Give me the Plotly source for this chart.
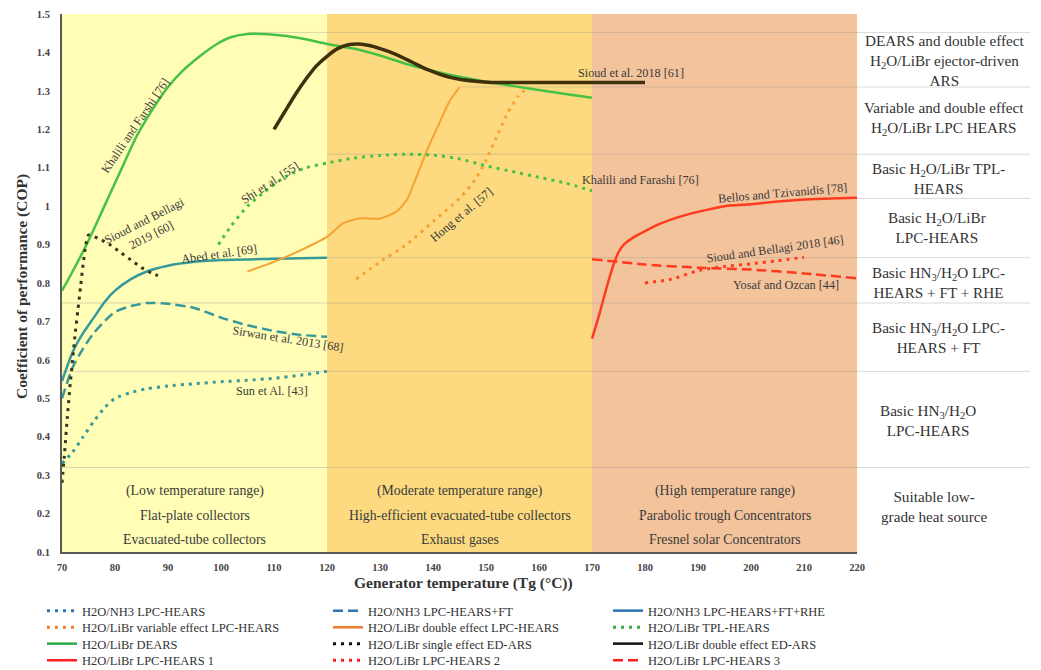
import plotly.graph_objects as go

# ---- series data: generator temperature (°C) vs COP ----
nh3_lpc_T = [70, 72, 74, 76, 78, 80, 83, 86, 90, 95, 100, 105, 110, 115, 120]
nh3_lpc_cop = [0.33, 0.36, 0.40, 0.44, 0.475, 0.50, 0.515, 0.525, 0.532, 0.538, 0.543, 0.547, 0.552, 0.56, 0.57]

nh3_ft_T = [70, 72, 74, 76, 78, 80, 83, 86, 90, 95, 100, 105, 110, 115, 120]
nh3_ft_cop = [0.50, 0.58, 0.63, 0.67, 0.70, 0.725, 0.74, 0.748, 0.746, 0.735, 0.71, 0.69, 0.675, 0.665, 0.66]

nh3_rhe_T = [70, 72, 74, 76, 78, 80, 83, 86, 90, 95, 100, 110, 120]
nh3_rhe_cop = [0.545, 0.62, 0.67, 0.71, 0.75, 0.78, 0.81, 0.83, 0.845, 0.855, 0.86, 0.863, 0.866]

libr_var_T = [125.5, 130, 135, 140, 145, 148, 150, 152, 154, 156, 158]
libr_var_cop = [0.81, 0.855, 0.9, 0.96, 1.02, 1.07, 1.12, 1.18, 1.24, 1.285, 1.31]

libr_dbl_T = [105, 110, 115, 120, 123, 126, 130, 133, 135, 137, 139, 141, 143, 145]
libr_dbl_cop = [0.83, 0.855, 0.885, 0.92, 0.955, 0.968, 0.968, 0.985, 1.015, 1.08, 1.15, 1.21, 1.27, 1.31]

libr_tpl_T = [99.5, 102, 105, 108, 112, 116, 120, 125, 130, 135, 140, 145, 150, 155, 160, 165, 170]
libr_tpl_cop = [0.9, 0.95, 1.0, 1.035, 1.075, 1.1, 1.112, 1.125, 1.132, 1.135, 1.133, 1.123, 1.105, 1.09, 1.075, 1.06, 1.04]

dears_T = [70, 72, 75, 78, 81, 84, 87, 90, 93, 96, 99, 102, 105, 110, 115, 120, 125, 130, 135, 140, 145, 150, 155, 160, 165, 170]
dears_cop = [0.78, 0.83, 0.91, 1.0, 1.09, 1.18, 1.25, 1.31, 1.355, 1.39, 1.42, 1.44, 1.448, 1.446, 1.437, 1.422, 1.41, 1.392, 1.37, 1.352, 1.337, 1.324, 1.313, 1.302, 1.292, 1.282]

ed_single_T = [70, 70.5, 71, 71.5, 72, 72.5, 73, 73.5, 74, 74.5, 75, 77, 79, 81, 83, 85, 87, 89]
ed_single_cop = [0.28, 0.36, 0.45, 0.53, 0.60, 0.67, 0.73, 0.79, 0.85, 0.90, 0.925, 0.915, 0.9, 0.88, 0.86, 0.84, 0.825, 0.815]

ed_double_T = [110, 112, 114, 116, 118, 120, 122, 124, 126, 128, 130, 133, 136, 139, 142, 145, 148, 151, 155, 160, 170, 180]
ed_double_cop = [1.2, 1.245, 1.29, 1.33, 1.365, 1.39, 1.41, 1.42, 1.422, 1.418, 1.41, 1.395, 1.375, 1.355, 1.34, 1.33, 1.325, 1.322, 1.322, 1.322, 1.322, 1.322]

lpc1_T = [170, 171, 172, 173, 174, 175, 176, 178, 180, 183, 186, 190, 195, 200, 205, 210, 215, 220]
lpc1_cop = [0.655, 0.7, 0.75, 0.8, 0.845, 0.88, 0.9, 0.92, 0.935, 0.955, 0.97, 0.985, 1.0, 1.005, 1.012, 1.017, 1.02, 1.022]

lpc2_T = [180, 185, 190, 195, 200, 205, 210]
lpc2_cop = [0.80, 0.81, 0.832, 0.843, 0.85, 0.858, 0.867]

lpc3_T = [170, 180, 190, 200, 210, 220]
lpc3_cop = [0.862, 0.848, 0.84, 0.835, 0.825, 0.812]

# temperature bands
band_edges = [70, 120, 170, 220]
band_colors = ["#FFFDB6", "#FDDA80", "#F3C39C"]
band_text = [
    ["(Low temperature range)", "Flat-plate collectors", "Evacuated-tube collectors"],
    ["(Moderate temperature range)", "High-efficient evacuated-tube collectors", "Exhaust gases"],
    ["(High temperature range)", "Parabolic trough Concentrators", "Fresnel solar Concentrators"],
]
band_text_cop = [0.258, 0.195, 0.133]

# category guide lines (COP level, starting temperature)
guide_levels = [1.452, 1.31, 1.135, 1.02, 0.866, 0.748, 0.57, 0.32]
guide_start = [105, 145, 120, 220, 120, 70, 70, 70]

# categories listed beside the chart
cat_labels = [
    "DEARS and double effect<br>H<sub>2</sub>O/LiBr ejector-driven<br>ARS",
    "Variable and double effect<br>H<sub>2</sub>O/LiBr LPC HEARS",
    "Basic H<sub>2</sub>O/LiBr TPL-<br>HEARS",
    "Basic H<sub>2</sub>O/LiBr<br>LPC-HEARS",
    "Basic HN<sub>3</sub>/H<sub>2</sub>O LPC-<br>HEARS + FT + RHE",
    "Basic HN<sub>3</sub>/H<sub>2</sub>O LPC-<br>HEARS + FT",
    "Basic HN<sub>3</sub>/H<sub>2</sub>O<br>LPC-HEARS",
    "Suitable low-<br>grade heat source",
]
cat_cop = [1.38, 1.227, 1.073, 0.945, 0.802, 0.659, 0.443, 0.219]
cat_xpaper = [1.111, 1.109, 1.102, 1.101, 1.102, 1.103, 1.089, 1.098]

# curve labels: text, T, COP, angle
curve_labels = [
    ("Khalili and Farshi [76]", 83.8, 1.208, -56),
    ("Sioud and Bellagi<br>2019 [60]", 86.2, 0.943, -27),
    ("Shi et al. [55]", 109.2, 1.06, -33),
    ("Abed et al. [69]", 99.6, 0.875, -8),
    ("Sirwan et al. 2013 [68]", 112.6, 0.654, 9),
    ("Sun et Al. [43]", 109.6, 0.518, 0),
    ("Hong et al. [57]", 145.3, 0.977, -40),
    ("Khalili and Farashi [76]", 179.1, 1.068, 0),
    ("Sioud et al. 2018 [61]", 177.4, 1.346, 0),
    ("Bellos and Tzivanidis [78]", 206.0, 1.034, -5),
    ("Sioud and Bellagi 2018 [46]", 204.5, 0.888, -8),
    ("Yosaf and Ozcan [44]", 206.6, 0.794, 0),
]

y_ticks = [0.1, 0.2, 0.3, 0.4, 0.5, 0.6, 0.7, 0.8, 0.9, 1.0, 1.1, 1.2, 1.3, 1.4, 1.5]
y_ticktext = ["0.1", "0.2", "0.3", "0.4", "0.5", "0.6", "0.7", "0.8", "0.9", "1", "1.1", "1.2", "1.3", "1.4", "1.5"]
x_ticks = [70, 80, 90, 100, 110, 120, 130, 140, 150, 160, 170, 180, 190, 200, 210, 220]

SERIF = "Liberation Serif"
TEAL = "#38999A"
ORANGE = "#F6A234"
GREEN = "#45C245"
DARK = "#3E300C"
DARK_DOT = "#36361A"
RED = "#FF3A1E"
DOT = "3px,5px"
DASH = "10px,5px"

# (name, T, COP, plot colour, dash, width, legend colour)
series = [
    ("H2O/NH3 LPC-HEARS", nh3_lpc_T, nh3_lpc_cop, TEAL, DOT, 3, "#2E75B6"),
    ("H2O/NH3 LPC-HEARS+FT", nh3_ft_T, nh3_ft_cop, TEAL, DASH, 2.5, "#2E75B6"),
    ("H2O/NH3 LPC-HEARS+FT+RHE", nh3_rhe_T, nh3_rhe_cop, TEAL, "solid", 2.5, "#2E75B6"),
    ("H2O/LiBr variable effect LPC-HEARS", libr_var_T, libr_var_cop, ORANGE, DOT, 3, "#ED7D31"),
    ("H2O/LiBr double effect LPC-HEARS", libr_dbl_T, libr_dbl_cop, ORANGE, "solid", 2, "#ED7D31"),
    ("H2O/LiBr TPL-HEARS", libr_tpl_T, libr_tpl_cop, GREEN, DOT, 3, "#2EAA4A"),
    ("H2O/LiBr DEARS", dears_T, dears_cop, GREEN, "solid", 2.5, "#2EAA4A"),
    ("H2O/LiBr single effect ED-ARS", ed_single_T, ed_single_cop, DARK_DOT, DOT, 3, "#111111"),
    ("H2O/LiBr double effect ED-ARS", ed_double_T, ed_double_cop, DARK, "solid", 3.5, "#111111"),
    ("H2O/LiBr LPC-HEARS 1", lpc1_T, lpc1_cop, RED, "solid", 2.5, "#FF1E1E"),
    ("H2O/LiBr LPC-HEARS 2", lpc2_T, lpc2_cop, RED, DOT, 3, "#FF1E1E"),
    ("H2O/LiBr LPC-HEARS 3", lpc3_T, lpc3_cop, RED, DASH, 2.5, "#FF1E1E"),
]

W, H = 1041, 670
plot_l, plot_r, plot_t, plot_b = 62, 857, 14, 552

fig = go.Figure()

for name, T, cop, col, dash, w, lcol in series:
    fig.add_trace(go.Scatter(
        x=T, y=cop, mode="lines", name=name, showlegend=False, legendgroup=name,
        line=dict(color=col, dash=dash, width=w, shape="spline", smoothing=0.6),
        hoverinfo="x+y+name",
    ))

# legend entries laid out as a 3-column grid, one legend per entry
legend_cols_px = [42, 328, 608]
legend_rows_px = [611, 627.5, 644, 660.5]
legend_layouts = {}
for i, (name, T, cop, col, dash, w, lcol) in enumerate(series):
    key = "legend" if i == 0 else f"legend{i + 1}"
    r, c = divmod(i, 3)
    fig.add_trace(go.Scatter(
        x=[None], y=[None], mode="lines", name=name, legendgroup=name, legend=key,
        line=dict(color=lcol, dash=dash, width=2.5 if dash != DOT else 3),
    ))
    legend_layouts[key] = dict(
        x=legend_cols_px[c] / W, y=1 - legend_rows_px[r] / H,
        xref="container", yref="container", xanchor="left", yanchor="middle",
        bgcolor="rgba(0,0,0,0)", borderwidth=0, itemwidth=30,
        font=dict(family=SERIF, size=12.5, color="#333333"),
    )

shapes = []
for i in range(3):
    shapes.append(dict(type="rect", xref="x", yref="paper", x0=band_edges[i], x1=band_edges[i + 1],
                       y0=0, y1=1, fillcolor=band_colors[i], line=dict(width=0), layer="below"))

y_lo, y_hi = 0.1, 1.5
x_lo, x_hi = 70, 220
right_end = (1030 - plot_l) / (plot_r - plot_l)
for lvl, t0 in zip(guide_levels, guide_start):
    yp = (lvl - y_lo) / (y_hi - y_lo)
    shapes.append(dict(type="line", xref="paper", yref="paper",
                       x0=(t0 - x_lo) / (x_hi - x_lo), x1=right_end, y0=yp, y1=yp,
                       line=dict(color="rgba(150,150,150,0.35)", width=1), layer="below"))

CENTER = dict(xanchor="center", yanchor="middle", showarrow=False)

annotations = []
for i in range(3):
    mid = (band_edges[i] + band_edges[i + 1]) / 2
    for txt, yv in zip(band_text[i], band_text_cop):
        annotations.append(dict(x=mid, y=yv, xref="x", yref="y", text=txt, **CENTER,
                                font=dict(family=SERIF, size=13.8, color="#3a3a3a")))

for txt, T, v, ang in curve_labels:
    annotations.append(dict(x=T, y=v, xref="x", yref="y", text=txt, textangle=ang, **CENTER,
                            font=dict(family=SERIF, size=12.2, color="#3a3a3a")))

for txt, v, xp in zip(cat_labels, cat_cop, cat_xpaper):
    annotations.append(dict(x=xp, y=v, xref="paper", yref="y", text=txt, align="center", **CENTER,
                            font=dict(family=SERIF, size=15.2, color="#333333")))

# axis titles placed in pixel terms relative to the plot area
annotations.append(dict(x=(22 - plot_l) / (plot_r - plot_l), y=1 - (287 - plot_t) / (plot_b - plot_t),
                        xref="paper", yref="paper", text="<b>Coefficient of performance (COP)</b>",
                        textangle=-90, **CENTER,
                        font=dict(family=SERIF, size=15.5, color="#333333")))
annotations.append(dict(x=(463 - plot_l) / (plot_r - plot_l), y=1 - (583 - plot_t) / (plot_b - plot_t),
                        xref="paper", yref="paper", text="<b>Generator temperature (Tg (°C))</b>",
                        **CENTER, font=dict(family=SERIF, size=15.5, color="#333333")))

fig.update_layout(
    width=W, height=H,
    margin=dict(l=plot_l, r=W - plot_r, t=plot_t, b=H - plot_b, autoexpand=False),
    paper_bgcolor="white", plot_bgcolor="white",
    shapes=shapes, annotations=annotations,
    font=dict(family=SERIF),
    xaxis=dict(range=[x_lo, x_hi], tickvals=x_ticks, showgrid=False, zeroline=False,
               showline=True, linecolor="#5a5a5a", linewidth=2, ticks="",
               tickfont=dict(family=SERIF, size=10.5, color="#444444", weight="bold"),
               ticklabelstandoff=4),
    yaxis=dict(range=[y_lo, y_hi], tickvals=y_ticks, ticktext=y_ticktext, showgrid=False, zeroline=False,
               showline=True, linecolor="#5a5a5a", linewidth=2, ticks="",
               tickfont=dict(family=SERIF, size=10.5, color="#444444", weight="bold"),
               ticklabelstandoff=8),
    **legend_layouts,
)

fig.write_html("out.html")
